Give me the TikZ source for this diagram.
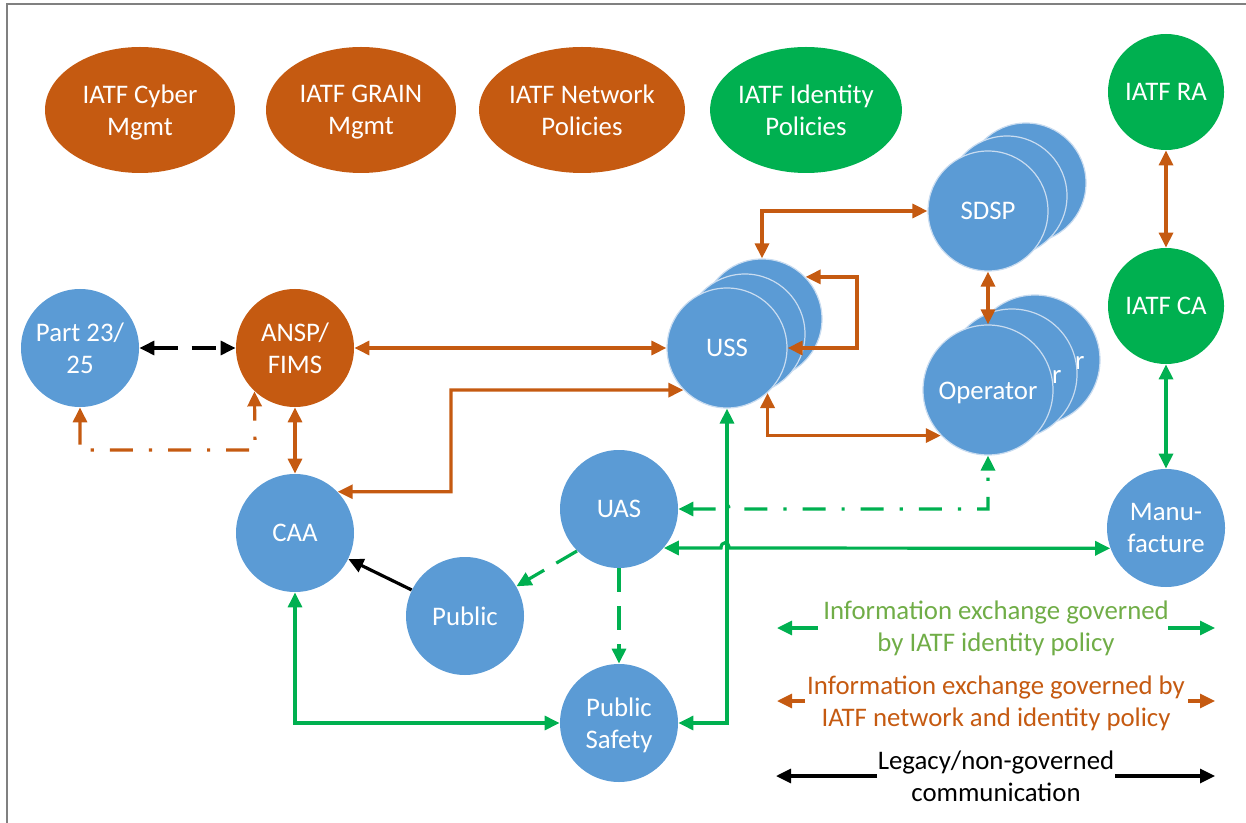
\documentclass[tikz,border=0pt]{standalone}
\usepackage{fontspec}
\setmainfont{Carlito}
\usetikzlibrary{arrows.meta,shapes.geometric}
\definecolor{cblue}{HTML}{5B9BD5}
\definecolor{corange}{HTML}{C55A11}
\definecolor{cgreen}{HTML}{00B050}
\definecolor{lgreen}{HTML}{70AD47}
\definecolor{ring}{HTML}{C9DCF0}
\definecolor{framegray}{HTML}{808080}
\newcommand{\oplabel}{\smash{\raisebox{-4.8pt}{Operator}}}
\begin{document}
\begin{tikzpicture}[x=0.5pt,y=-0.5pt,
  every node/.style={font=\fontsize{13.4}{16}\selectfont, align=center},
  circ/.style={circle, fill=cblue, text=white, inner sep=0pt, minimum size=#1pt},
  circ/.default=59,
  ell/.style={ellipse, text=white, inner sep=0pt, minimum width=95pt, minimum height=63pt},
  stk/.style={draw=ring, line width=0.6pt},
  >={Triangle[length=7.5pt,width=7pt]},
  orn/.style={draw=corange, line width=1.6pt},
  grn/.style={draw=cgreen, line width=1.6pt},
  blk/.style={draw=black, line width=1.6pt},
  ddot/.style={dash pattern=on 11.5pt off 8pt on 1.6pt off 8pt},
  ldash/.style={dash pattern=on 12pt off 7pt}]
\useasboundingbox (0,0) rectangle (1246,823);
\draw[framegray, line width=1pt] (7,823) -- (7,4) -- (1246,4);

% top ellipses
\node[ell, fill=corange] (cyber) at (140,110) {IATF Cyber\\\smash{Mgmt}};
\node[ell, fill=corange] (grain) at (361,110) {IATF GRAIN\\\smash{Mgmt}};
\node[ell, fill=corange] (netp) at (582,110) {IATF Network\\Policies};
\node[ell, fill=cgreen] (idp) at (806,110) {IATF Identity\\Policies};

% right column
\node[circ=58, fill=cgreen] (ra) at (1166,92) {IATF RA};
\node[circ=58, fill=cgreen] (ca) at (1166,306) {IATF CA};
\node[circ=59] (manu) at (1166,528) {Manu-\\facture};

% left / middle circles
\node[circ] (p23) at (80,348) {Part 23/\\25};
\node[circ, fill=corange] (ansp) at (295,348) {ANSP/\\FIMS};
\node[circ] (caa) at (295,533) {CAA};
\node[circ] (uas) at (619,509) {UAS};
\node[circ] (public) at (465,616) {Public};
\node[circ] (ps) at (619,723) {Public\\\smash{Safety}};

% stacks
\node[circ=60, stk] (uss3) at (762,319) {};
\node[circ=60, stk] (uss2) at (745,334) {};
\node[circ=60, stk] (uss) at (727,348) {USS};
\node[circ=60, stk] (sdsp3) at (1026,183) {};
\node[circ=60, stk] (sdsp2) at (1007,196) {};
\node[circ=60, stk] (sdsp) at (988,211) {SDSP};
\node[circ=65, stk] (op3) at (1035,360) {\oplabel};
\node[circ=65, stk] (op2) at (1012,374) {\oplabel};
\node[circ=65, stk] (op) at (988,390) {\oplabel};

% connectors
\draw[blk, ldash, <->] (p23.east) -- (ansp.west);
\draw[orn, ddot, <->] (p23.south) |- (255,450) -- (ansp.227);
\draw[orn, <->] (ansp.south) -- (caa.north);
\draw[orn, <->] (ansp.east) -- (uss.west);
\draw[orn, <->] (caa.44) -| (451,390) -- (uss.224);
\draw[orn, <->] (uss3.north) |- (sdsp.west);
\draw[orn, <->] (uss3.44) -| (857,348) -- (uss.east);
\draw[orn, <->] (uss.-48) |- (op.224);
\draw[orn, <->] (sdsp.south) -- (op.north);
\draw[orn, <->] (ra.south) -- (ca.north);
\draw[grn, <->] (ca.south) -- (manu.north);
\draw[grn, <->] (caa.south) |- (ps.west);
\draw[grn, <->] (uss.south) |- (ps.east);
\draw[grn, <->] (uas.-41.4) -- (721,548) .. controls (721,541) and (729,541) .. (729,548) -- (manu.-160.2);
\draw[grn, ddot, <->] (uas.east) -- (721,509) .. controls (721,502) and (729,502) .. (729,509) -- (988,509) -- (op.south);
\draw[grn, ldash, ->] (uas.225.7) -- (public.30);
\draw[grn, ldash, ->] (uas.south) -- (ps.north);
\draw[blk, ->] (public) -- (caa);

% legend
\node[text=lgreen] (lgg) at (996,626) {Information exchange governed\\\smash{by IATF identity policy}};
\coordinate (g1a) at (818,628); \coordinate (g1b) at (777,628);
\coordinate (g2a) at (1168,628); \coordinate (g2b) at (1215,628);
\draw[grn, ->] (g1a) -- (g1b);
\draw[grn, ->] (g2a) -- (g2b);
\node[text=corange] (lgo) at (996,701) {Information exchange governed by\\\smash{IATF network and identity policy}};
\coordinate (o1a) at (805,701); \coordinate (o1b) at (777,701);
\coordinate (o2a) at (1188,701); \coordinate (o2b) at (1215,701);
\draw[orn, ->] (o1a) -- (o1b);
\draw[orn, ->] (o2a) -- (o2b);
\node[text=black] (lgb) at (996,776) {Legacy/non-governed\\communication};
\coordinate (b1a) at (877,776); \coordinate (b1b) at (776,776);
\coordinate (b2a) at (1115,776); \coordinate (b2b) at (1215,776);
\draw[blk, ->] (b1a) -- (b1b);
\draw[blk, ->] (b2a) -- (b2b);
\end{tikzpicture}
\end{document}
